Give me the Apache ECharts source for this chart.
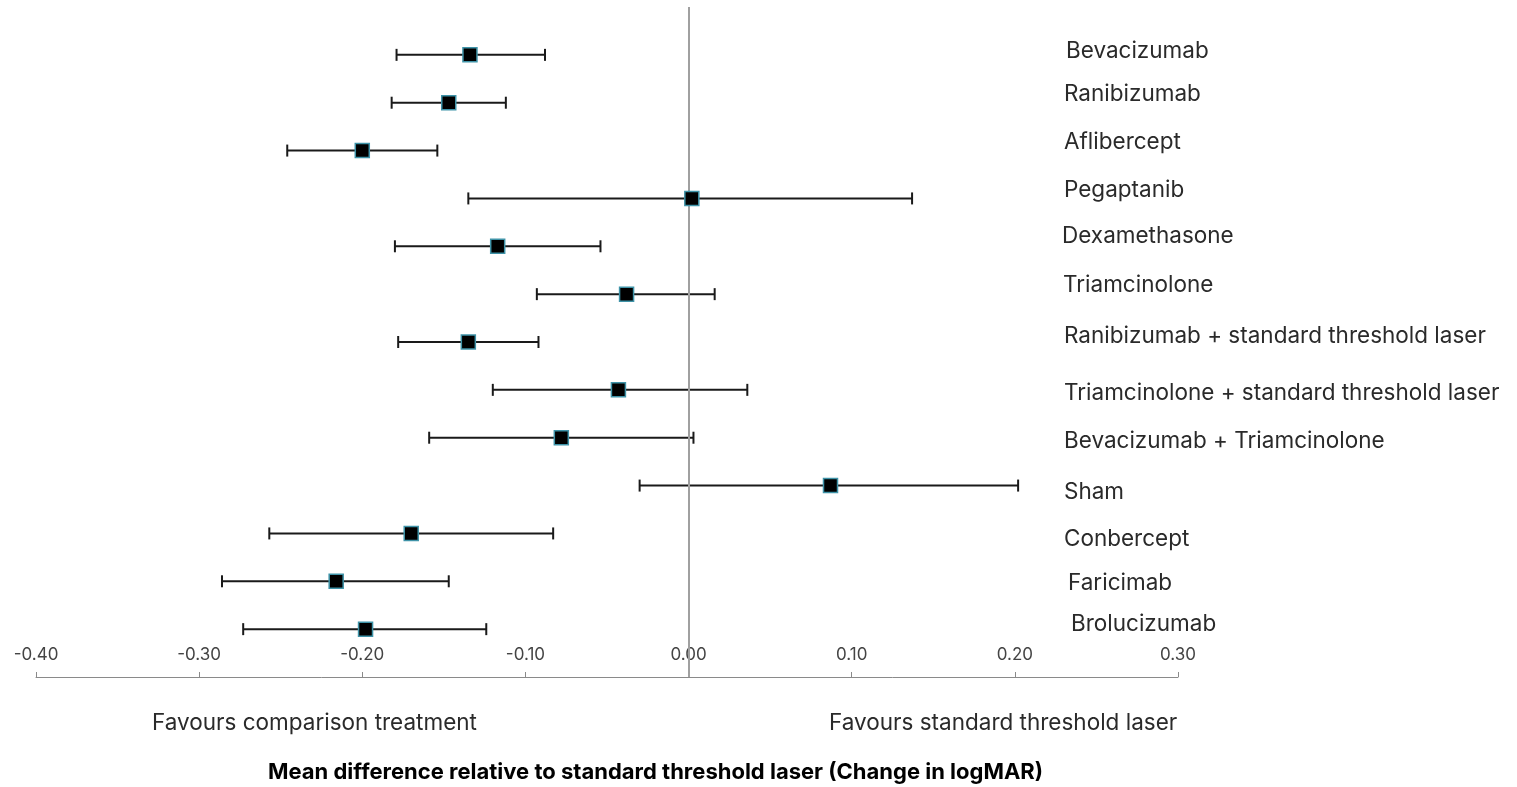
<!DOCTYPE html>
<html>
<head>
<meta charset="utf-8">
<script src="https://cdn.jsdelivr.net/npm/echarts@6/dist/echarts.min.js"></script>
<style>
html,body{margin:0;padding:0;background:#fff;}
#chart{width:1517px;height:787px;}
</style>
</head>
<body>
<div id="chart"></div>
<script>
const categories = [
  'Bevacizumab', 'Ranibizumab', 'Aflibercept', 'Pegaptanib', 'Dexamethasone',
  'Triamcinolone', 'Ranibizumab + standard threshold laser',
  'Triamcinolone + standard threshold laser', 'Bevacizumab + Triamcinolone',
  'Sham', 'Conbercept', 'Faricimab', 'Brolucizumab'
];
const means = [-0.134, -0.147, -0.200, 0.002, -0.117, -0.038, -0.135, -0.043, -0.078, 0.087, -0.170, -0.216, -0.198];
const lower = [-0.179, -0.182, -0.246, -0.135, -0.180, -0.093, -0.178, -0.120, -0.159, -0.030, -0.257, -0.286, -0.273];
const upper = [-0.088, -0.112, -0.154, 0.137, -0.054, 0.016, -0.092, 0.036, 0.003, 0.202, -0.083, -0.147, -0.124];
const xTicks = { min: -0.4, max: 0.3, interval: 0.1 };

// label nudges (style only)
const labelDy = [-4, -8, -8, -8, -10, -9, -6, 3, 4, 7, 6, 2, -5];
const labelDx = [4, 2, 2, 2, 0, 1, 2, 2, 2, 2, 2, 6, 9];

const FONT = 'Inter, "Noto Sans", sans-serif';
const rich = {};
labelDy.forEach((dy, i) => {
  rich['r' + i] = {
    fontFamily: FONT, fontSize: 22.5, color: '#2a2a2a',
    padding: [dy > 0 ? 2 * dy : 0, 0, dy < 0 ? -2 * dy : 0, labelDx[i]]
  };
});

const barData = categories.map((c, i) => [i, lower[i], upper[i]]);
const pointData = categories.map((c, i) => [means[i], i]);

const chart = echarts.init(document.getElementById('chart'));
chart.setOption({
  animation: false,
  backgroundColor: '#fff',
  grid: { left: 36, right: 339, top: 7, bottom: 110, containLabel: false },
  xAxis: {
    type: 'value', min: xTicks.min, max: xTicks.max, interval: xTicks.interval,
    axisLine: { show: true, onZero: false, lineStyle: { color: '#8a8a8a', width: 1 } },
    axisTick: { show: true, inside: true, length: 5, lineStyle: { color: '#8a8a8a' } },
    axisLabel: { inside: true, margin: 14, color: '#444', fontSize: 17, fontFamily: FONT,
      formatter: v => v.toFixed(2) },
    splitLine: { show: false }
  },
  yAxis: {
    type: 'value', inverse: true, min: -1, max: 13, interval: 1,
    position: 'right', offset: -116,
    axisLine: { show: false }, axisTick: { show: false }, splitLine: { show: false },
    axisLabel: {
      margin: 0, align: 'left',
      formatter: v => (v >= 0 && v < categories.length) ? '{r' + v + '|' + categories[v] + '}' : '',
      rich: rich
    }
  },
  series: [
    {
      type: 'custom',
      data: barData,
      renderItem: function (params, api) {
        const i = api.value(0);
        const p1 = api.coord([api.value(1), i]);
        const p2 = api.coord([api.value(2), i]);
        const h = 6;
        const st = { stroke: '#1a1a1a', lineWidth: 2 };
        return {
          type: 'group',
          children: [
            { type: 'line', shape: { x1: p1[0], y1: p1[1], x2: p2[0], y2: p2[1] }, style: st },
            { type: 'line', shape: { x1: p1[0], y1: p1[1] - h, x2: p1[0], y2: p1[1] + h }, style: st },
            { type: 'line', shape: { x1: p2[0], y1: p2[1] - h, x2: p2[0], y2: p2[1] + h }, style: st }
          ]
        };
      },
      markLine: {
        silent: true, symbol: 'none', label: { show: false },
        lineStyle: { color: '#a0a0a0', width: 2, type: 'solid' },
        data: [{ xAxis: 0 }]
      },
      z: 2
    },
    {
      type: 'scatter',
      data: pointData,
      symbol: 'rect',
      symbolSize: 14,
      itemStyle: { color: '#000', borderColor: '#3f93a8', borderWidth: 1.5, opacity: 1 },
      z: 5
    }
  ],
  graphic: [
    { type: 'text', left: 152, top: 712, style: { text: 'Favours comparison treatment', font: '22.5px ' + FONT, fill: '#2a2a2a' } },
    { type: 'text', left: 829, top: 712, style: { text: 'Favours standard threshold laser', font: '22.5px ' + FONT, fill: '#2a2a2a' } },
    { type: 'text', left: 268, top: 761, style: { text: 'Mean difference relative to standard threshold laser (Change in logMAR)', font: 'bold 22px ' + FONT, fill: '#000' } }
  ]
});
</script>
</body>
</html>
